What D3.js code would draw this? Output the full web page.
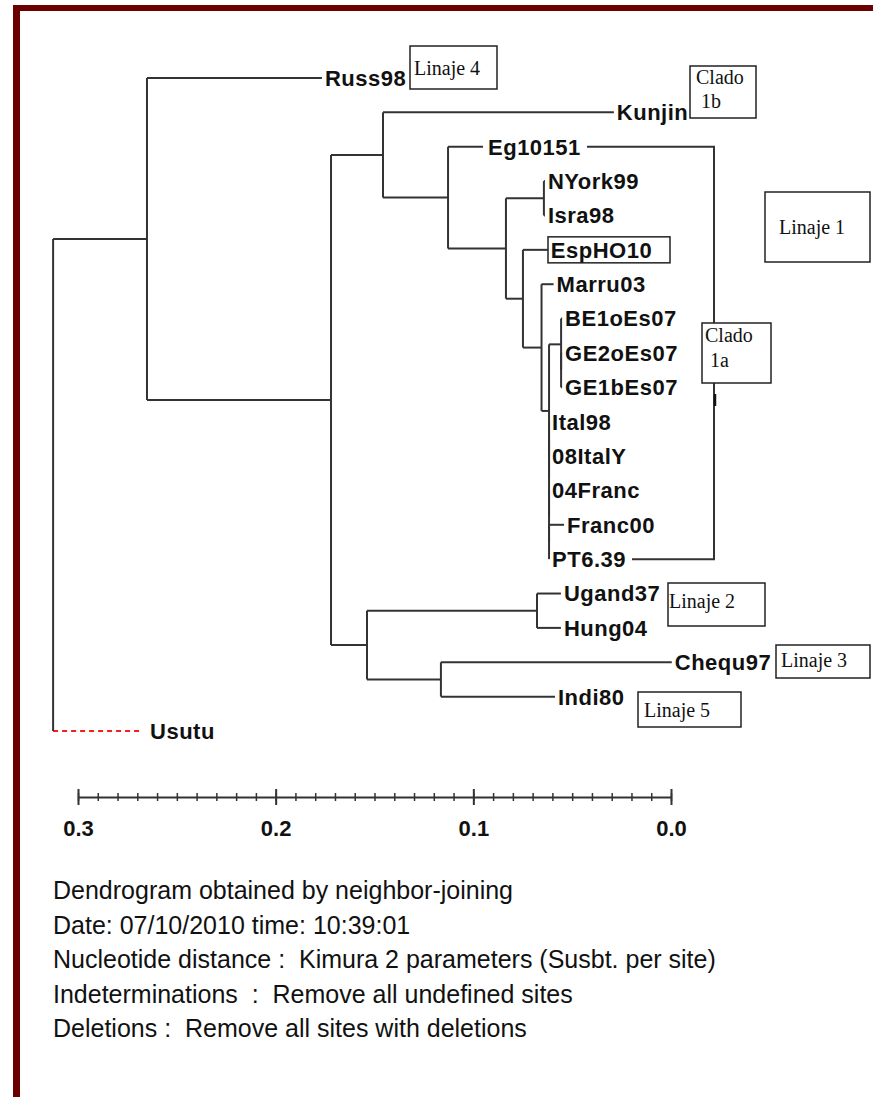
<!DOCTYPE html>
<html>
<head>
<meta charset="utf-8">
<script src="https://cdn.jsdelivr.net/npm/d3@7"></script>
<style>
  body { margin: 0; background: #fff; }
  svg { display: block; }
  text { white-space: pre; }
</style>
</head>
<body>
<svg id="chart" width="873" height="1097"></svg>
<script>
// neighbor-joining tree, written as parent links + branch lengths (subst. per site)
// internal nodes with 0 length are just there to keep the tree binary
var nodeIds = ["root","A","Russ98","B","C","Kunjin","E","Eg10151","F","G","NYork99","Isra98",
  "H","EspHO10","I","Marru03","J","K","BE1oEs07","K2","GE2oEs07","GE1bEs07","J2","J3","Ital98",
  "08ItalY","J4","04Franc","J5","Franc00","PT6.39","D","L","Ugand37","Hung04","M","Chequ97","Indi80","Usutu"];
var parentIds = ["","root","A","A","B","C","C","E","E","F","G","G",
  "F","H","H","I","I","J","K","K","K2","K2","J","J2","J3",
  "J3","J2","J4","J4","J5","J5","B","D","L","L","D","M","M","root"];
var branchLengths = [0,0.0475,0.0885,0.0931,0.0263,0.1168,0.0329,0.0177,0.0293,0.0192,0.0005,0.0005,
  0.0086,0.0126,0.0094,0.0061,0.0038,0.0061,0.0005,0,0.0005,0.0005,0,0,0,
  0,0,0,0,0.0076,0,0.0182,0.086,0.0121,0.0121,0.0374,0.1168,0.0577,0.044];

// root sits a bit left of the 0.3 mark on the scale bar
var rootDistance = 0.3126;
var axisTicks = [0.3, 0.2, 0.1, 0.0];

// boxed notes drawn over the tree
var boxLabels = [["Linaje 4"], ["Clado", " 1b"], ["Linaje 1"], ["Clado", " 1a"], ["Linaje 2"], ["Linaje 3"], ["Linaje 5"]];
var footerLines = [
  "Dendrogram obtained by neighbor-joining",
  "Date: 07/10/2010 time: 10:39:01",
  "Nucleotide distance :  Kimura 2 parameters (Susbt. per site)",
  "Indeterminations  :  Remove all undefined sites",
  "Deletions :  Remove all sites with deletions"
];

var svg = d3.select("#chart");
var lineColor = "#333";

// frame (top and left bars)
svg.append("rect").attr("x", 13).attr("y", 5).attr("width", 860).attr("height", 6).attr("fill", "#6b0000");
svg.append("rect").attr("x", 13).attr("y", 5).attr("width", 7).attr("height", 1092).attr("fill", "#6b0000");

var table = nodeIds.map(function(id, i) {
  return { id: id, parent: parentIds[i], len: branchLengths[i] };
});
var root = d3.stratify()
  .id(function(d) { return d.id; })
  .parentId(function(d) { return d.parent || null; })(table);

var x = d3.scaleLinear().domain([0.3, 0]).range([78, 671]);
var y = d3.scalePoint()
  .domain(root.leaves().map(function(d) { return d.id; }))
  .range([78, 731]);

root.eachBefore(function(d) {
  d.dist = (d.parent ? d.parent.dist : 0) + d.data.len;
  d.px = x(rootDistance - d.dist);
});
root.eachAfter(function(d) {
  if (d.children) d.py = (d.children[0].py + d.children[d.children.length - 1].py) / 2;
  else d.py = y(d.id);
});

var g = svg.append("g");

// horizontal branches
g.selectAll("line.branch")
  .data(root.descendants().filter(function(d) { return d.parent; }))
  .enter().append("line")
    .attr("class", "branch")
    .attr("x1", function(d) { return d.parent.px; })
    .attr("x2", function(d) { return d.px; })
    .attr("y1", function(d) { return d.py; })
    .attr("y2", function(d) { return d.py; })
    .attr("stroke", function(d) { return d.id == "Usutu" ? "#ff1a1a" : lineColor; })
    .attr("stroke-width", 2)
    .attr("stroke-dasharray", function(d) { return d.id == "Usutu" ? "5,4" : null; });

// vertical connectors
g.selectAll("line.join")
  .data(root.descendants().filter(function(d) { return d.children; }))
  .enter().append("line")
    .attr("class", "join")
    .attr("x1", function(d) { return d.px; })
    .attr("x2", function(d) { return d.px; })
    .attr("y1", function(d) { return d.children[0].py; })
    .attr("y2", function(d) { return d.children[d.children.length - 1].py; })
    .attr("stroke", lineColor)
    .attr("stroke-width", 2);

// bracket for lineage 1 (Eg10151 .. PT6.39)
var bx = 714;
g.append("path")
  .attr("d", "M587," + y("Eg10151") + "H" + bx + "V" + y("PT6.39") + "H632")
  .attr("fill", "none").attr("stroke", lineColor).attr("stroke-width", 2);
g.append("line").attr("x1", bx + 1).attr("x2", bx + 1).attr("y1", 394).attr("y2", 406)
  .attr("stroke", "#111").attr("stroke-width", 2.5);

// leaf names
g.selectAll("text.leaf")
  .data(root.leaves())
  .enter().append("text")
    .attr("class", "leaf")
    .attr("x", function(d) { return d.px + (d.id == "Usutu" ? 10 : (d.id == "Eg10151" ? 5 : 3)); })
    .attr("y", function(d) { return d.py; })
    .attr("dy", "0.36em")
    .style("font-family", "'Liberation Sans', Arial, sans-serif")
    .style("font-weight", "bold")
    .style("font-size", "22px")
    .style("letter-spacing", "0.5px")
    .attr("fill", "#111")
    .text(function(d) { return d.id; });

// box round EspHO10
svg.append("rect").attr("x", 548).attr("y", y("EspHO10") - 13).attr("width", 122).attr("height", 26)
  .attr("fill", "none").attr("stroke", "#222").attr("stroke-width", 1.5);

// note boxes
var boxLayout = [
  { x: 410, y: 46, w: 87, h: 43, tx: 4, ty: [29] },
  { x: 690, y: 66, w: 66, h: 52, tx: 6, ty: [18, 42] },
  { x: 765, y: 192, w: 105, h: 70, tx: 14, ty: [42] },
  { x: 702, y: 323, w: 69, h: 60, tx: 3, ty: [19, 44] },
  { x: 668, y: 583, w: 97, h: 43, tx: 1, ty: [25] },
  { x: 776, y: 645, w: 94, h: 33, tx: 5, ty: [22] },
  { x: 638, y: 692, w: 103, h: 35, tx: 6, ty: [25] }
];
var boxes = svg.selectAll("g.note")
  .data(boxLabels)
  .enter().append("g")
    .attr("class", "note")
    .attr("transform", function(d, i) { return "translate(" + boxLayout[i].x + "," + boxLayout[i].y + ")"; });
boxes.append("rect")
  .attr("width", function(d, i) { return boxLayout[i].w; })
  .attr("height", function(d, i) { return boxLayout[i].h; })
  .attr("fill", "#fff").attr("stroke", "#222").attr("stroke-width", 1.5);
boxes.each(function(d, i) {
  var b = boxLayout[i];
  d3.select(this).selectAll("text")
    .data(d)
    .enter().append("text")
      .attr("x", b.tx)
      .attr("y", function(t, j) { return b.ty[j]; })
      .style("font-family", "'Liberation Serif', 'Times New Roman', serif")
      .style("font-size", "20px")
      .attr("fill", "#111")
      .text(function(t) { return t; });
});

// scale bar
var axisY = 797;
var minor = svg.append("g").attr("transform", "translate(0," + axisY + ")")
  .call(d3.axisBottom(x).ticks(30).tickSize(4).tickSizeOuter(0).tickFormat(""));
minor.selectAll(".tick line").attr("y1", -4).attr("stroke", lineColor).attr("stroke-width", 1.5);
minor.select(".domain").attr("stroke", lineColor).attr("stroke-width", 2);

var major = svg.append("g").attr("transform", "translate(0," + axisY + ")")
  .call(d3.axisBottom(x).tickValues(axisTicks).tickSize(8).tickFormat(d3.format(".1f")));
major.select(".domain").remove();
major.selectAll(".tick line").attr("y1", -8).attr("stroke", lineColor).attr("stroke-width", 2);
major.selectAll(".tick text")
  .attr("y", 23)
  .style("font-family", "'Liberation Sans', Arial, sans-serif")
  .style("font-weight", "bold")
  .style("font-size", "22px")
  .attr("fill", "#111");

// footer notes
svg.selectAll("text.foot")
  .data(footerLines)
  .enter().append("text")
    .attr("class", "foot")
    .attr("x", 53)
    .attr("y", function(d, i) { return 899 + i * 34.5; })
    .style("font-family", "'Liberation Sans', Arial, sans-serif")
    .style("font-size", "25px")
    .attr("fill", "#111")
    .text(function(d) { return d; });
</script>
</body>
</html>
